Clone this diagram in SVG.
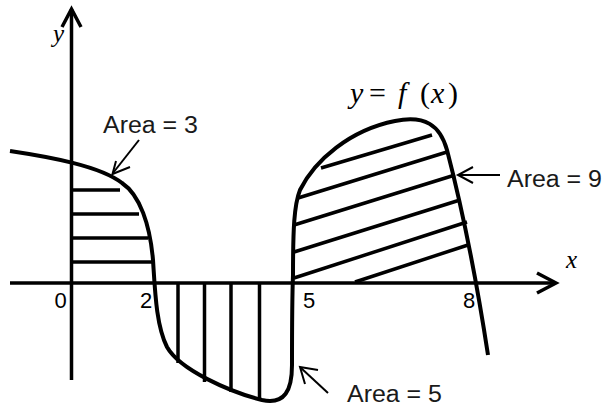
<svg xmlns="http://www.w3.org/2000/svg" width="604" height="409" viewBox="0 0 604 409">
<style>
.axis{stroke:#000;stroke-width:3.5;fill:none;stroke-linecap:butt}
.curve{stroke:#000;stroke-width:4;fill:none;stroke-linejoin:round}
.hatch{stroke:#000;stroke-width:3.5;fill:none}
.ptr{stroke:#000;stroke-width:2;fill:none;stroke-linejoin:miter}
.lbl{font-family:"Liberation Sans",Arial,sans-serif;font-size:23px;fill:#1a1a1a}
.num{font-family:"Liberation Sans",Arial,sans-serif;font-size:22px;fill:#000}
.math{font-family:"Liberation Serif","Times New Roman",serif;font-size:30px;fill:#000}
.axl{font-family:"Liberation Serif","Times New Roman",serif;font-size:25px;font-style:italic;fill:#000}
.it{font-style:italic}
</style>
<rect width="604" height="409" fill="#fff"/>
<g id="axes">
  <line class="axis" x1="71.5" y1="9" x2="71.5" y2="380"/>
  <polyline class="axis" points="62,27 71.5,9 81,27"/>
  <line class="axis" x1="10" y1="283" x2="555" y2="283"/>
  <polyline class="axis" points="537,273 556,283 537,293"/>
  <text class="axl" x="53" y="42">y</text>
  <text class="axl" x="566" y="268">x</text>
</g>
<g id="ticks">
  <text class="num" x="54.5" y="308">0</text>
  <text class="num" x="140" y="308">2</text>
  <text class="num" x="303" y="308">5</text>
  <text class="num" x="463" y="308">8</text>
</g>
<g id="hatching">
  <line class="hatch" x1="72" y1="190" x2="120" y2="190"/>
  <line class="hatch" x1="72" y1="214" x2="139" y2="214"/>
  <line class="hatch" x1="72" y1="238" x2="148" y2="238"/>
  <line class="hatch" x1="72" y1="262" x2="155" y2="262"/>
  <line class="hatch" x1="178" y1="283" x2="178" y2="363"/>
  <line class="hatch" x1="204.5" y1="283" x2="204.5" y2="382"/>
  <line class="hatch" x1="231" y1="283" x2="231" y2="392"/>
  <line class="hatch" x1="259.5" y1="283" x2="259.5" y2="399"/>
  <line class="hatch" x1="321" y1="168" x2="432" y2="135"/>
  <line class="hatch" x1="298" y1="198" x2="447" y2="152"/>
  <line class="hatch" x1="294" y1="225" x2="455" y2="175"/>
  <line class="hatch" x1="294" y1="252" x2="460" y2="200"/>
  <line class="hatch" x1="294" y1="278" x2="467" y2="222"/>
  <line class="hatch" x1="355" y1="282" x2="468" y2="245"/>
</g>
<g id="curve">
  <path class="curve" d="M10,151 C50,157 100,166 122,183 C140,195 150,225 153,260 C155,290 156,325 167,347 C180,370 230,392 262,400 C285,405 292,390 292,365 C292,330 292,300 293,275 C293,230 294,205 300,190 C315,160 350,130 395,121 C425,115 440,125 447,150 C460,200 475,270 488,355"/>
  <text class="math" y="103"><tspan class="it" x="350">y</tspan><tspan x="369">=</tspan><tspan class="it" x="398">f</tspan><tspan x="420">(</tspan><tspan class="it" x="431">x</tspan><tspan x="448">)</tspan></text>
</g>
<g id="label-area3">
  <line class="ptr" x1="139" y1="140" x2="113" y2="173"/>
  <polyline class="ptr" points="116,161 112.5,174 130,167"/>
  <text class="lbl" x="103" y="133" textLength="95" lengthAdjust="spacingAndGlyphs">Area = 3</text>
</g>
<g id="label-area9">
  <line class="ptr" x1="459" y1="175" x2="500" y2="175"/>
  <polyline class="ptr" points="473,167 458,175 473,183"/>
  <text class="lbl" x="507" y="187" textLength="95" lengthAdjust="spacingAndGlyphs">Area = 9</text>
</g>
<g id="label-area5">
  <line class="ptr" x1="301" y1="368" x2="328" y2="393"/>
  <polyline class="ptr" points="318,370 300,367 305,384"/>
  <text class="lbl" x="347" y="402" textLength="95" lengthAdjust="spacingAndGlyphs">Area = 5</text>
</g>
</svg>
